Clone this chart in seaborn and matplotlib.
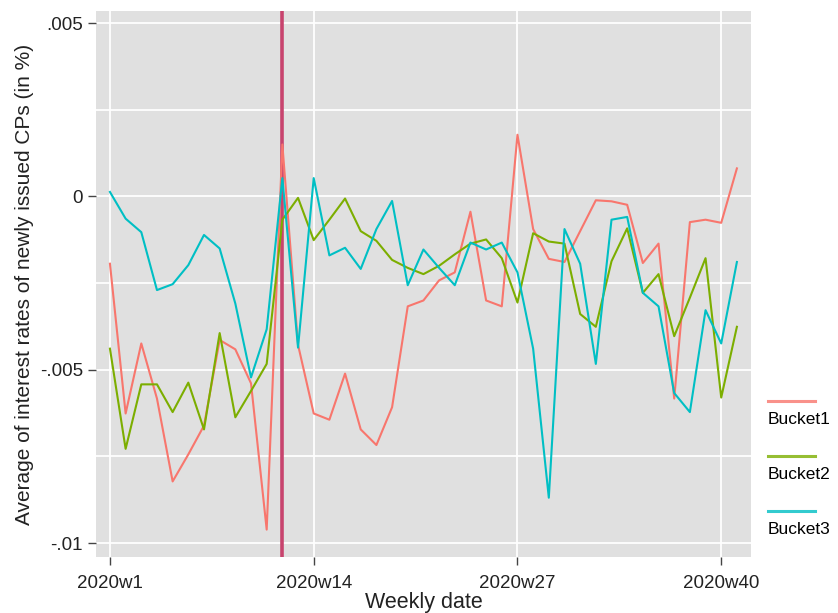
import numpy as np
import pandas as pd
import seaborn as sns
import matplotlib.pyplot as plt
from matplotlib.ticker import FixedLocator

# weekly averages
weeks = list(range(1, 42))
bucket1 = [-0.00194, -0.00626, -0.00424, -0.00583, -0.00822, -0.00744, -0.00661, -0.00414,
           -0.00441, -0.00539, -0.00961, 0.00150, -0.00428, -0.00626, -0.00644, -0.00511,
           -0.00672, -0.00717, -0.00608, -0.00317, -0.00300, -0.00242, -0.00219, -0.00044,
           -0.00300, -0.00317, 0.00178, -0.00094, -0.00180, -0.00189, -0.00100, -0.00011,
           -0.00014, -0.00024, -0.00192, -0.00136, -0.00583, -0.00074, -0.00067, -0.00076,
           0.00081]
bucket2 = [-0.00439, -0.00728, -0.00542, -0.00542, -0.00622, -0.00537, -0.00672, -0.00394,
           -0.00637, -0.00561, -0.00483, -0.00067, -0.00004, -0.00126, -0.00067, -0.00006,
           -0.00100, -0.00128, -0.00183, -0.00206, -0.00224, -0.00200, -0.00167, -0.00136,
           -0.00124, -0.00178, -0.00306, -0.00106, -0.00130, -0.00136, -0.00339, -0.00376,
           -0.00187, -0.00092, -0.00278, -0.00224, -0.00403, -0.00292, -0.00178, -0.00580,
           -0.00376]
bucket3 = [0.00013, -0.00064, -0.00103, -0.00270, -0.00253, -0.00198, -0.00111, -0.00150,
           -0.00309, -0.00522, -0.00383, 0.00053, -0.00436, 0.00053, -0.00170, -0.00148,
           -0.00209, -0.00094, -0.00013, -0.00256, -0.00153, -0.00206, -0.00256, -0.00133,
           -0.00153, -0.00133, -0.00219, -0.00439, -0.00869, -0.00094, -0.00194, -0.00483,
           -0.00067, -0.00059, -0.00278, -0.00317, -0.00567, -0.00622, -0.00328, -0.00424,
           -0.00189]
bucket_names = ['Bucket1', 'Bucket2', 'Bucket3']
colors = ['#F8766D', '#7CAE00', '#00BFC4']
event_week = 12
xtick_weeks = [1, 14, 27, 40]
xtick_labels = ['2020w1', '2020w14', '2020w27', '2020w40']
ytick_vals = [-0.01, -0.005, 0, 0.005]
ytick_labels = ['-.01', '-.005', '0', '.005']

df = pd.DataFrame({
    'week': weeks * 3,
    'rate': bucket1 + bucket2 + bucket3,
    'bucket': np.repeat(bucket_names, len(weeks)),
})

plt.rcParams['font.family'] = ['Liberation Sans', 'DejaVu Sans']

fig = plt.figure(figsize=(8.38, 6.13), dpi=100)
ax = fig.add_axes([96 / 838, 1 - 557 / 613, (751 - 96) / 838, (557 - 11) / 613])
ax.set_facecolor('#e0e0e0')

ax.axvline(event_week, color='#c8446e', lw=2.6, zorder=1.5)
sns.lineplot(data=df, x='week', y='rate', hue='bucket', palette=colors, ax=ax,
             linewidth=1.5, legend=False, zorder=2)

ax.set_xlim(0.11, 41.9)
ax.set_ylim(-0.0104, 0.00535)
ax.set_xticks(xtick_weeks)
ax.set_xticklabels(xtick_labels, fontsize=13.5)
ax.set_yticks(ytick_vals)
ax.set_yticklabels(ytick_labels, fontsize=13.5)
ax.yaxis.set_minor_locator(FixedLocator([-0.0075, -0.0025, 0.0025]))
ax.tick_params(axis='y', which='minor', length=0)
ax.tick_params(axis='both', which='major', length=6, width=1, color='#444444',
               labelcolor='#222222')
ax.tick_params(axis='x', pad=7)
ax.grid(True, which='both', color='white', lw=1.3)
ax.set_axisbelow(True)
for s in ax.spines.values():
    s.set_visible(False)

ax.set_xlabel('Weekly date', fontsize=15.5, color='#222222', labelpad=0)
ax.set_ylabel('Average of interest rates of newly issued CPs (in %)', fontsize=15,
              color='#222222', labelpad=4)

# legend: line sample on top, label underneath
handles = [plt.Line2D([], [], color=c, lw=2.2, alpha=0.8) for c in colors]
leg = ax.legend(handles, ['\n\n' + n for n in bucket_names], loc='upper left',
                bbox_to_anchor=(1.015, 0.347), frameon=False, fontsize=12.5,
                handlelength=2.7, handletextpad=-2.7, labelspacing=0.17, borderaxespad=0)
for t in leg.get_texts():
    t.set_linespacing(1.3)

fig.savefig('out.png', dpi=100)
